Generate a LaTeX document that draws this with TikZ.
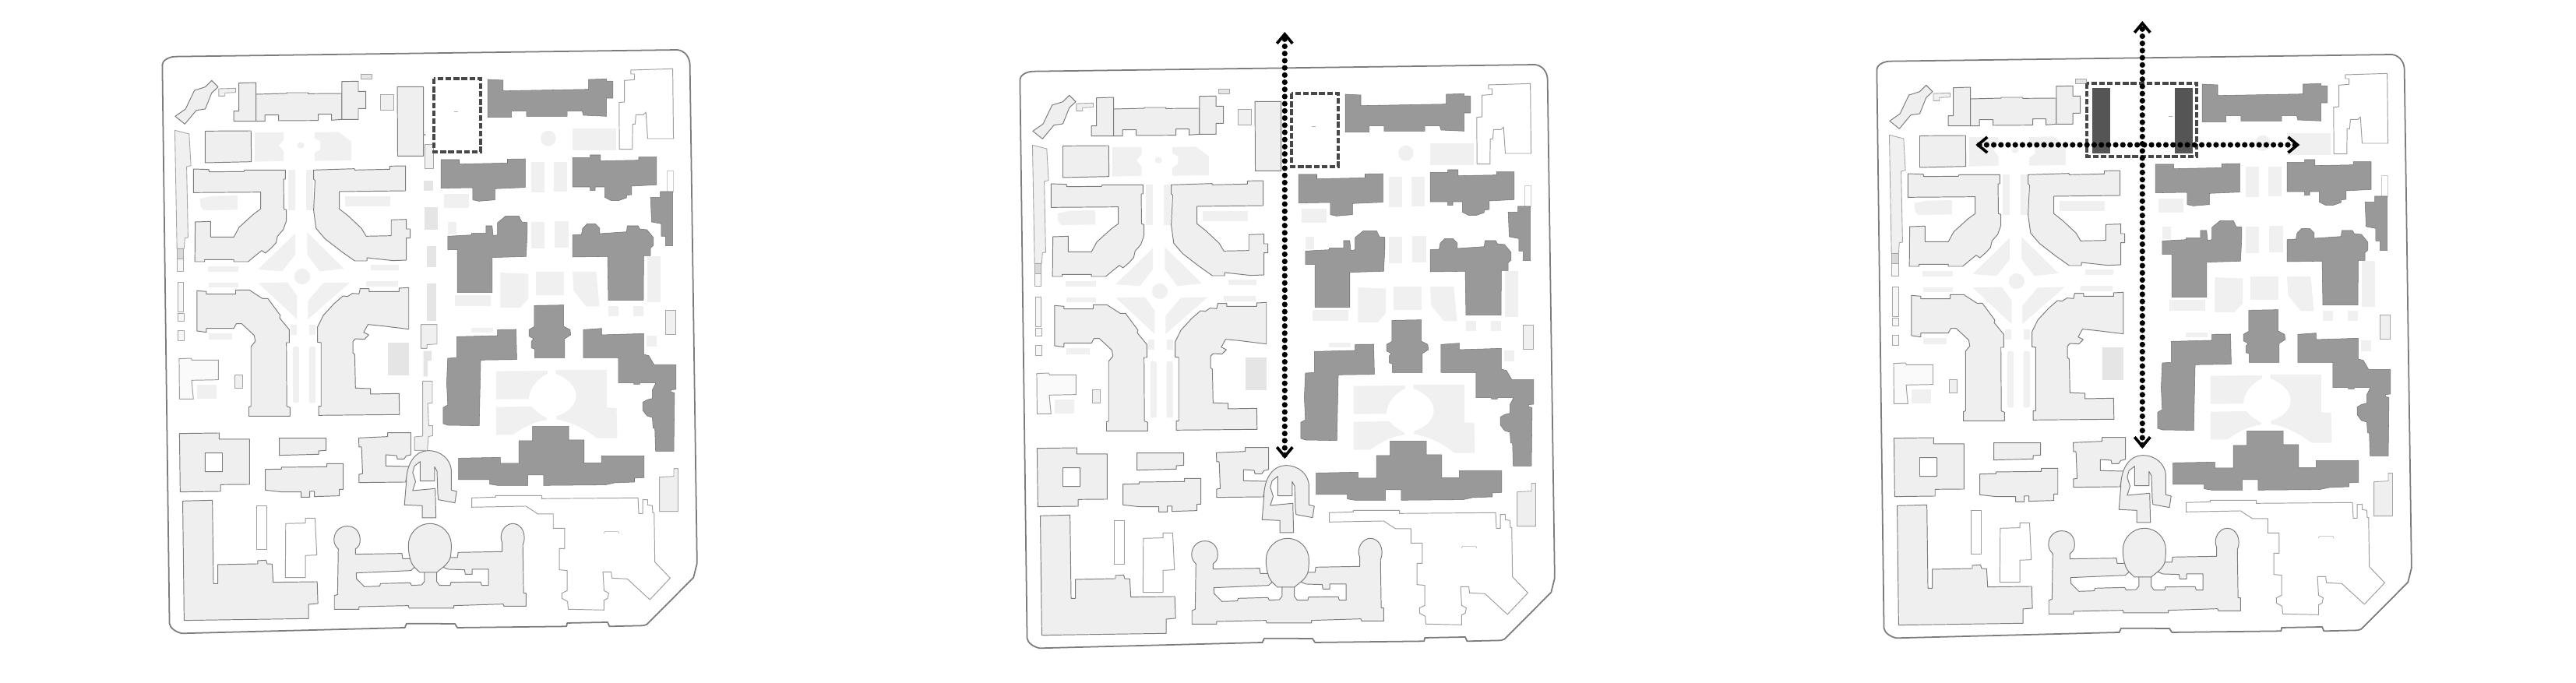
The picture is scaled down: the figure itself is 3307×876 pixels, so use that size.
\documentclass[tikz,border=0pt]{standalone}
\usetikzlibrary{arrows.meta}
\definecolor{lt}{HTML}{EFEFEF}
\definecolor{pl}{HTML}{F0F0F0}
\definecolor{md}{HTML}{E5E5E5}
\definecolor{dk}{HTML}{999999}
\definecolor{vd}{HTML}{555555}
\definecolor{ln}{HTML}{7C7C7C}
\tikzset{
  panel/.style 2 args={x=0.02cm,y=-0.02cm,shift={(#1,#2)},x=0.0091827cm,y=-0.0066667cm},
  low/.style={shift={(0,1170)}},
  site/.style={draw=ln,line width=1pt,fill=white,line join=round},
  lite/.style={draw=ln,line width=0.55pt,fill=lt,line join=round},
  fade/.style={draw=black!35,line width=0.5pt,fill=pl,line join=round},
  hollow/.style={draw=black!38,line width=0.55pt,fill=white,line join=round},
  open/.style={draw=black!20,line width=0.5pt,fill=white},
  dark/.style={draw=black!55,line width=0.3pt,fill=dk,line join=round},
  pale/.style={fill=pl},
  mid/.style={fill=md},
  newblock/.style={fill=vd},
  plot/.style={draw=black!72,line width=2.3pt,dash pattern=on 4.2pt off 1.6pt},
  walk/.style={line width=4.1pt,line cap=round,dash pattern=on 0pt off 5.24pt,
    {Straight Barb[length=6.8pt,width=11.4pt,line width=2.1pt]}-{Straight Barb[length=6.8pt,width=11.4pt,line width=2.1pt]}},
}
% ---- everything common to the three site plans
\newcommand\plancommon{%
\path[site] (40,130) .. controls (40,115) and (55,100) .. (75,98) -- (1480,72) .. controls (1500,75) and (1515,100) .. (1515,130) -- (1535,2050) -- (1525,2105) -- (1395,2285) -- (1385,2290) -- (1290,2293) -- (1285,2277) -- (1172,2280) -- (1170,2293) -- (865,2298) -- (858,2283) -- (723,2282) -- (718,2298) -- (95,2320) .. controls (78,2315) and (62,2300) .. (60,2282) -- cycle;
% open spaces, upper
\path[pale] (298,390) -- (380,390) -- (380,418) -- (366,440) -- (380,465) -- (380,500) -- (298,503) -- cycle;
\path[pale] (466,390) -- (532,388) -- (568,425) -- (568,498) -- (466,500) -- (466,470) -- (482,455) -- (482,425) -- (466,412) -- cycle;
\path[pale] (427,440) ellipse [x radius=10,y radius=12];
\path[pale] (1119,413) ellipse [x radius=21,y radius=30];
\path[pale] (1187,375) rectangle (1308,460);
\path[pale] (145,645) -- (180,635) -- (250,633) -- (250,688) -- (155,690) -- (147,675) -- cycle;
\path[pale] (550,635) rectangle (678,675);
\path[pale] (393,535) rectangle (411,690);
\path[pale] (442,535) rectangle (462,690);
\path[pale] (412,778) -- (412,860) -- (375,925) -- (308,918) -- cycle;
\path[pale] (445,775) -- (548,915) -- (480,925) -- (445,860) -- cycle;
\path[pale] (431,945) ellipse [x radius=22,y radius=30];
\path[pale] (308,970) -- (390,968) -- (417,1020) -- (417,1110) -- cycle;
\path[pale] (447,1040) -- (490,970) -- (565,968) -- (447,1110) -- cycle;
\path[pale] (167,907) rectangle (253,926);
\path[pale] (623,900) rectangle (702,922);
\path[pale] (170,970) rectangle (252,988);
\path[pale] (610,962) rectangle (700,984);
\path[pale] (170,1163) rectangle (236,1187);
\path[pale] (398,1132) rectangle (416,1170);
\path[pale] (450,1132) rectangle (468,1170);
\path[pale] (828,628) rectangle (898,682);
\path[pale] (838,735) rectangle (863,783);
\path[pale] (1072,504) rectangle (1108,620);
\path[pale] (1135,503) rectangle (1172,618);
\path[pale] (1072,735) rectangle (1108,838);
\path[pale] (1137,732) rectangle (1175,835);
\path[pale] (1395,868) rectangle (1432,1043);
\path[pale] (858,1018) rectangle (958,1060);
\path[pale] (985,930) -- (1063,935) -- (1063,1030) -- (1040,1065) -- (985,1065) -- cycle;
\path[pale] (1085,928) rectangle (1163,1016);
\path[pale] (1187,927) -- (1253,927) -- (1262,1060) -- (1225,1060) -- (1190,1000) -- cycle;
\path[pale] (1288,1060) rectangle (1315,1097);
\path[pale] (1357,1060) rectangle (1385,1097);
\path[pale] (903,1143) rectangle (965,1160);
\path[pale] (1393,1172) rectangle (1422,1215);
\path[fade] (1447,1075) rectangle (1476,1168);
\path[open] (1452,538) rectangle (1468,618);
% buildings, upper
\path[lite] (178,190) -- (196,215) -- (178,238) -- (160,300) -- (135,305) -- (103,358) -- (76,328) -- (105,300) -- (118,262) -- (130,228) -- (160,215) -- cycle;
\path[fade] (198,222) -- (245,220) -- (245,236) -- (215,238) -- (215,250) -- (198,250) -- cycle;
\path[lite] (254,200) -- (302,198) -- (302,347) -- (240,347) -- (240,308) -- (254,308) -- cycle;
\path[lite] (302,243) -- (388,240) -- (388,237) -- (448,237) -- (448,241) -- (542,240) -- (542,340) -- (513,343) -- (513,320) -- (476,320) -- (476,344) -- (365,345) -- (365,323) -- (327,323) -- (327,347) -- (302,347) -- cycle;
\path[lite] (542,194) -- (588,193) -- (588,232) -- (609,232) -- (609,298) -- (588,298) -- (588,340) -- (542,340) -- cycle;
\path[fade,fill=md] (595,167) rectangle (627,184);
\path[hollow] (1350,150) -- (1467,145) -- (1469,414) -- (1397,414) -- (1392,312) -- (1385,322) -- (1364,322) -- (1362,358) -- (1355,358) -- (1354,455) -- (1318,455) -- (1317,275) -- (1332,273) -- (1332,190) -- (1360,187) -- (1360,165) -- (1350,165) -- cycle;
\path[fade] (75,382) -- (115,396) -- (120,518) -- (108,522) -- (112,795) -- (103,797) -- (101,838) -- (81,838) -- cycle;
\path[fade,fill=black!15] (81,838) rectangle (100,878);
\path[fade,fill=black!3] (81,878) rectangle (100,925);
\path[fade,fill=black!3] (84,968) rectangle (100,1080);
\path[fade,fill=black!3] (84,1088) rectangle (102,1117);
\path[fade,fill=black!3] (84,1153) rectangle (102,1192);
\path[lite] (160,385) -- (288,384) -- (289,503) -- (160,507) -- cycle;
\path[lite] (127,531) -- (170,533) -- (171,542) -- (268,541) -- (270,535) -- (384,535) -- (384,570) -- (379,570) -- (380,685) -- (387,688) -- (387,730) -- (378,765) -- (362,790) -- (358,815) -- (345,835) -- (328,855) -- (318,845) -- (300,865) -- (280,888) -- (240,888) -- (240,880) -- (158,880) -- (158,888) -- (131,888) -- (132,735) -- (175,733) -- (175,793) -- (240,793) -- (255,755) -- (295,705) -- (315,685) -- (315,620) -- (127,622) -- cycle;
\path[lite] (463,535) -- (577,530) -- (578,535) -- (676,532) -- (676,520) -- (720,519) -- (720,615) -- (535,618) -- (535,685) -- (560,712) -- (597,760) -- (610,790) -- (680,788) -- (680,727) -- (722,725) -- (722,762) -- (733,762) -- (733,797) -- (722,797) -- (722,882) -- (685,884) -- (612,873) -- (612,885) -- (578,885) -- (540,848) -- (495,800) -- (470,760) -- (463,690) -- (467,575) -- (463,570) -- cycle;
\path[lite] (137,1000) -- (163,1003) -- (163,1013) -- (245,1013) -- (245,997) -- (283,997) -- (320,1030) -- (335,1030) -- (370,1095) -- (368,1105) -- (395,1150) -- (395,1200) -- (387,1200) -- (388,1445) -- (397,1450) -- (397,1483) -- (282,1483) -- (282,1448) -- (288,1445) -- (288,1215) -- (300,1195) -- (297,1172) -- (262,1127) -- (247,1127) -- (240,1145) -- (163,1145) -- (163,1160) -- (137,1155) -- cycle;
\path[lite] (593,992) -- (618,992) -- (618,1003) -- (702,1003) -- (702,990) -- (729,988) -- (729,1148) -- (652,1135) -- (615,1130) -- (603,1160) -- (617,1170) -- (605,1187) -- (580,1185) -- (573,1195) -- (573,1240) -- (578,1245) -- (580,1375) -- (622,1377) -- (622,1398) -- (702,1396) -- (703,1477) -- (477,1480) -- (477,1445) -- (484,1445) -- (484,1200) -- (474,1198) -- (474,1140) -- (490,1095) -- (520,1050) -- (545,1020) -- (558,1022) -- (572,1010) -- (590,1012) -- cycle;
% retained (dark) buildings
\path[dark] (950,186) -- (993,189) -- (993,230) -- (1232,224) -- (1232,186) -- (1282,184) -- (1282,192) -- (1300,193) -- (1300,258) -- (1282,258) -- (1282,328) -- (1217,324) -- (1214,308) -- (1172,308) -- (1172,328) -- (1058,328) -- (1058,308) -- (1016,308) -- (1016,332) -- (950,332) -- cycle;
\path[dark] (819,495) -- (870,495) -- (870,512) -- (1005,508) -- (1005,493) -- (1055,492) -- (1055,602) -- (970,607) -- (970,650) -- (925,655) -- (908,650) -- (908,603) -- (819,605) -- cycle;
\path[dark] (1187,487) -- (1236,487) -- (1236,477) -- (1265,477) -- (1265,500) -- (1372,497) -- (1372,485) -- (1422,485) -- (1422,592) -- (1352,597) -- (1352,630) -- (1338,632) -- (1338,642) -- (1315,653) -- (1295,653) -- (1277,640) -- (1277,600) -- (1250,600) -- (1250,614) -- (1236,614) -- (1236,600) -- (1187,600) -- cycle;
\path[dark] (1432,618) -- (1467,618) -- (1467,827) -- (1447,827) -- (1447,790) -- (1435,790) -- (1435,742) -- (1408,735) -- (1405,640) -- (1432,640) -- cycle;
\path[dark] (977,738) -- (1000,712) -- (1037,712) -- (1045,735) -- (1060,737) -- (1060,785) -- (1057,868) -- (962,872) -- (962,1007) -- (865,1007) -- (865,842) -- (838,842) -- (838,790) -- (905,785) -- (905,778) -- (945,778) -- (945,750) -- (962,750) -- (965,788) -- (977,785) -- cycle;
\path[dark] (1187,785) -- (1212,783) -- (1215,760) -- (1228,742) -- (1250,742) -- (1263,760) -- (1263,780) -- (1338,773) -- (1340,750) -- (1370,750) -- (1375,762) -- (1395,765) -- (1413,795) -- (1413,825) -- (1405,835) -- (1405,865) -- (1386,865) -- (1385,1037) -- (1287,1037) -- (1285,868) -- (1187,870) -- cycle;
\path[dark] (863,1177) -- (977,1173) -- (977,1150) -- (1029,1149) -- (1031,1265) -- (930,1267) -- (926,1520) -- (838,1518) -- (825,1512) -- (825,1450) -- (838,1440) -- (835,1355) -- (838,1260) -- (863,1258) -- cycle;
\path[dark] (1080,1057) -- (1162,1055) -- (1162,1137) -- (1180,1150) -- (1182,1170) -- (1165,1185) -- (1165,1258) -- (1081,1258) -- (1081,1225) -- (1072,1220) -- (1072,1195) -- (1078,1185) -- (1065,1175) -- (1065,1150) -- (1080,1138) -- cycle;
\path[dark] (1217,1150) -- (1268,1145) -- (1268,1170) -- (1386,1165) -- (1386,1245) -- (1400,1250) -- (1415,1285) -- (1476,1285) -- (1476,1380) -- (1462,1382) -- (1462,1390) -- (1472,1393) -- (1470,1618) -- (1419,1618) -- (1417,1530) -- (1412,1530) -- (1410,1488) -- (1395,1482) -- (1383,1460) -- (1383,1430) -- (1395,1420) -- (1410,1415) -- (1410,1382) -- (1420,1355) -- (1375,1355) -- (1375,1360) -- (1358,1360) -- (1358,1355) -- (1315,1355) -- (1315,1258) -- (1217,1258) -- cycle;
\begin{scope}[low]
% open spaces, lower
\path[pale] (973,140) -- (1117,138) -- (1117,150) .. controls (1085,170) and (1065,210) .. (1065,247) -- (973,248) -- cycle;
\path[pale] (1140,135) -- (1283,135) -- (1283,280) -- (1310,282) -- (1312,398) -- (1255,398) .. controls (1225,365) and (1185,335) .. (1142,325) -- (1142,313) .. controls (1175,300) and (1197,270) .. (1197,235) .. controls (1197,195) and (1170,165) .. (1140,150) -- cycle;
\path[pale] (973,278) -- (1072,276) .. controls (1085,295) and (1100,310) .. (1115,320) -- (1115,328) .. controls (1075,335) and (1045,360) .. (1020,385) -- (973,385) -- cycle;
\path[pale] (137,193) rectangle (192,245);
\path[pale,rounded corners=1pt] (405,45) rectangle (422,262);
\path[pale,rounded corners=1pt] (450,45) rectangle (468,262);
\path[mid] (671,30) rectangle (729,157);
\path[dark] (868,475) -- (985,472) -- (985,495) -- (1037,495) -- (1037,408) -- (1075,408) -- (1075,352) -- (1176,352) -- (1176,405) -- (1219,405) -- (1219,493) -- (1268,493) -- (1268,466) -- (1387,466) -- (1387,550) -- (1360,552) -- (1360,567) -- (1305,570) -- (1278,578) -- (1106,580) -- (1106,540) -- (1062,540) -- (1062,580) -- (977,580) -- (955,575) -- (955,558) -- (868,558) -- cycle;
% buildings, lower
\path[hollow,fill=black!2] (87,92) -- (120,90) -- (123,97) -- (197,97) -- (197,173) -- (122,175) -- (125,220) -- (127,247) -- (88,247) -- cycle;
\path[fade] (243,155) rectangle (265,205);
\path[lite,even odd rule] (88,380) -- (199,378) -- (199,402) -- (284,402) -- (284,576) -- (203,577) -- (203,603) -- (90,605) -- cycle (160,455) rectangle (208,527);
\path[lite] (367,398) -- (498,398) -- (498,445) -- (477,447) -- (477,460) -- (367,464) -- cycle;
\path[lite] (328,518) -- (373,517) -- (373,510) -- (500,508) -- (500,496) -- (546,496) -- (546,595) -- (535,595) -- (535,620) -- (465,623) -- (465,603) -- (452,603) -- (452,625) -- (428,625) -- (428,605) -- (373,605) -- (328,598) -- cycle;
\path[lite] (589,397) -- (670,392) -- (670,377) -- (735,377) -- (735,462) -- (722,466) -- (716,478) -- (697,478) -- (695,465) -- (665,462) -- (665,505) -- (730,507) -- (720,567) -- (590,569) -- (590,537) -- (600,535) -- (597,432) -- (590,432) -- cycle;
\path[lite] (717,655) -- (767,658) -- (767,705) -- (805,705) -- (803,592) -- (740,600) -- (748,565) -- (740,530) -- (745,505) -- (761,488) -- (761,563) -- (801,563) -- (801,508) -- (808,525) -- (810,610) -- (812,635) -- (858,647) -- (863,603) -- (848,598) -- (848,520) .. controls (845,480) and (820,446) .. (783,446) .. controls (750,446) and (722,490) .. (722,570) -- cycle;
\path[lite] (97,640) -- (180,637) -- (183,958) -- (195,958) -- (195,885) -- (307,882) -- (307,870) -- (330,868) -- (333,882) -- (347,883) -- (350,953) -- (473,951) -- (475,1035) -- (449,1038) -- (449,1093) -- (101,1100) -- cycle;
\path[hollow] (304,658) rectangle (331,827);
\path[hollow] (385,727) -- (440,725) -- (440,706) -- (467,706) -- (472,848) -- (440,850) -- (440,935) -- (384,935) -- cycle;
\path[lite,even odd rule] (520,790) .. controls (520,760) and (535,737) .. (557,737) .. controls (580,737) and (593,760) .. (593,790) .. controls (593,805) and (590,815) .. (580,825) -- (580,845) -- (710,842) -- (712,862) -- (733,862) .. controls (728,840) and (728,820) .. (728,810) .. controls (728,765) and (755,727) .. (788,727) .. controls (822,727) and (848,765) .. (848,810) .. controls (848,830) and (847,845) .. (845,858) -- (865,858) -- (867,838) -- (990,835) -- (990,800) .. controls (980,770) and (995,727) .. (1020,727) .. controls (1045,727) and (1060,770) .. (1048,810) -- (1050,995) -- (1057,995) -- (1057,1045) -- (995,1045) -- (993,1037) -- (855,1043) -- (855,1053) -- (730,1053) -- (728,1043) -- (590,1047) -- (590,1057) -- (521,1057) -- (521,1005) -- (530,1000) -- (532,825) .. controls (525,815) and (520,805) .. (520,790) -- cycle
 (582,917) -- (735,908) -- (745,895) -- (760,915) -- (773,915) -- (773,950) -- (765,963) -- (737,965) -- (733,955) -- (650,958) -- (648,968) -- (605,970) -- (583,940) -- cycle
 (807,915) -- (825,895) -- (840,903) -- (885,905) -- (887,922) -- (906,922) -- (906,903) -- (952,903) -- (952,965) -- (933,965) -- (930,952) -- (847,953) -- (845,965) -- (815,965) -- (807,950) -- cycle;
\path[draw=ln,line width=0.55pt] (733,862) .. controls (735,880) and (745,895) .. (745,895) (845,858) .. controls (840,880) and (825,895) .. (825,895) (773,915) -- (807,915);
\path[fade,fill=lt] (1430,548) -- (1470,545) -- (1470,515) -- (1482,515) -- (1482,680) -- (1430,680) -- cycle;
\path[hollow] (905,628) -- (972,625) -- (972,619) -- (1101,619) -- (1101,631) -- (1370,628) -- (1372,688) -- (1383,688) -- (1383,635) -- (1397,635) -- (1397,655) -- (1410,658) -- (1411,685) -- (1415,686) -- (1417,875) -- (1460,937) -- (1403,1020) -- (1340,940) -- (1297,937) -- (1295,913) -- (1272,913) -- (1275,985) -- (1288,995) -- (1285,1015) -- (1275,1022) -- (1275,1060) -- (1175,1057) -- (1173,1027) -- (1157,1015) -- (1157,995) -- (1172,985) -- (1172,908) -- (1150,905) -- (1150,823) -- (1165,823) -- (1165,745) -- (1133,745) -- (1133,690) -- (1090,690) -- (1057,660) -- (905,664) -- cycle;
\path[draw=black!30,line width=0.4pt] (1275,765) -- (1277,758) -- (1315,758) -- (1317,765);
\end{scope}
\path[draw=black!30,line width=0.6pt] (855,310) -- (866,310);
}
% ---- slab beside the plot, present in panels 1 and 2
\newcommand\planslab{%
\path[fade] (650,245) rectangle (688,304);
\path[lite] (697,214) -- (770,214) -- (770,481) -- (698,481) -- cycle;
}
% ---- buildings on the axis, present only in panel 1
\newcommand\planaxis{%
\path[fade] (773,437) rectangle (798,530);
\path[draw=black!70,line width=0.5pt] (775,395) -- (775,403);
\path[mid] (772,577) rectangle (798,615);
\path[mid] (773,678) rectangle (811,765);
\path[mid] (780,828) rectangle (806,910);
\path[mid] (780,973) rectangle (806,1115);
\path[fade] (763,1130) -- (808,1130) -- (808,1205) -- (780,1208) -- (780,1222) -- (763,1222) -- cycle;
\begin{scope}[low]
\path[mid] (770,62) -- (793,62) -- (793,100) -- (782,100) -- (782,160) -- (770,160) -- cycle;
\path[fade] (768,178) -- (795,178) -- (795,262) -- (782,264) -- (785,350) -- (796,350) -- (796,388) -- (784,392) -- (781,445) -- (745,445) -- (745,393) -- (768,390) -- cycle;
\end{scope}
}
\begin{document}
\begin{tikzpicture}[x=0.02cm,y=-0.02cm]
\useasboundingbox[fill=white] (0,0) rectangle (3307,876);
% panel 1
\begin{scope}[panel={190}{40}]
  \plancommon \planaxis \planslab
  \path[plot] (800,183) rectangle (930,465);
\end{scope}
% panel 2
\begin{scope}[panel={1291}{59}]
  \plancommon \planslab
  \path[plot] (800,183) rectangle (930,465);
\end{scope}
% panel 3
\begin{scope}[panel={2391}{46}]
  \plancommon
  \path[newblock] (643,202) rectangle (692,452);
  \path[newblock] (874,202) rectangle (924,452);
  \path[plot] (627,182) rectangle (935,465);
\end{scope}
% routes
\coordinate (bS) at (1649.3,589);
\coordinate (bN) at (1649.3,41);
\coordinate (cS) at (2750.3,576);
\coordinate (cN) at (2750.3,27);
\coordinate (cW) at (2536.4,186);
\coordinate (cE) at (2952.3,186);
\path[draw=black,walk] (bS) -- (bN);
\path[draw=black,walk] (cS) -- (cN);
\path[draw=black,walk] (cW) -- (cE);
\end{tikzpicture}
\end{document}
